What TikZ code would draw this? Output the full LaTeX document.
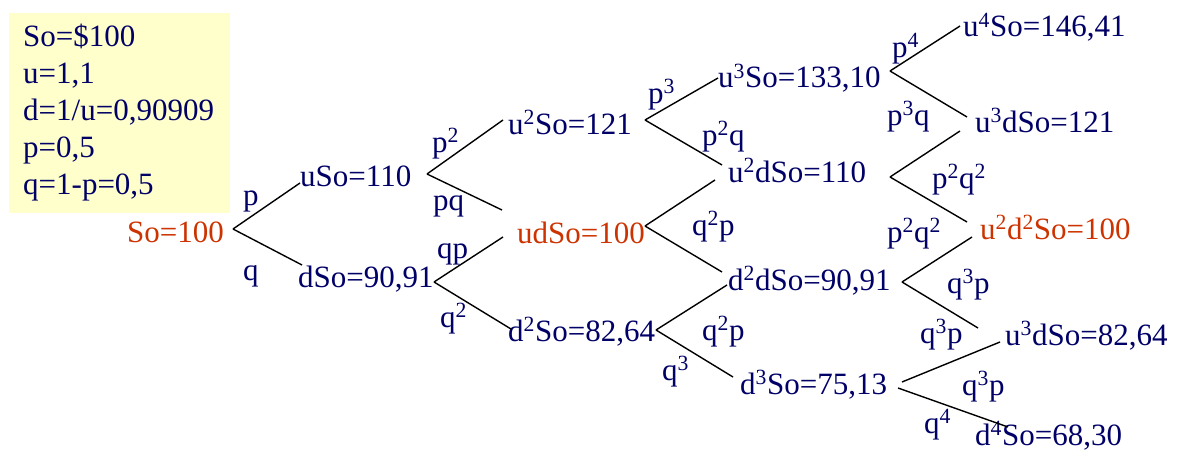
\documentclass[tikz,border=0pt]{standalone}
\usepackage{fontspec}
\setmainfont{Liberation Serif}
\usetikzlibrary{calc}
\definecolor{navy}{RGB}{0,0,102}
\definecolor{redt}{RGB}{204,51,0}
\definecolor{paleyellow}{RGB}{255,255,204}
\begin{document}
\begin{tikzpicture}[x=1pt,y=-1pt,
  val/.style={anchor=base west,inner sep=0pt,text=navy,font=\fontsize{31}{37}\selectfont},
  valr/.style={val,text=redt},
  lab/.style={anchor=base west,inner sep=0pt,text=navy,font=\fontsize{31}{37}\selectfont},
  link/.style={draw=black,line width=1.4pt}]
\useasboundingbox (0,0) rectangle (1177,452);
\fill[paleyellow] (9,13) rectangle (230,213);
\node[anchor=north west,inner sep=0pt,text=navy,font=\fontsize{31}{37}\selectfont,align=left] (info) at (23,24)
  {So=\$100\\u=1,1\\d=1/u=0,90909\\p=0,5\\q=1-p=0,5};
% values
\node[valr] (S0) at (127,242) {So=100};
\node[val] (uS) at (300,186) {uSo=110};
\node[val] (dS) at (298,287) {dSo=90,91};
\node[val] (u2S) at (508,134) {u\textsuperscript{2}So=121};
\node[valr] (udS) at (517,243) {udSo=100};
\node[val] (d2S) at (508,341) {d\textsuperscript{2}So=82,64};
\node[val] (u3S) at (718,88) {u\textsuperscript{3}So=133,10};
\node[val] (u2dS) at (728,182) {u\textsuperscript{2}dSo=110};
\node[val] (d2dS) at (728,290) {d\textsuperscript{2}dSo=90,91};
\node[val] (d3S) at (740,394) {d\textsuperscript{3}So=75,13};
\node[val] (u4S) at (963,37) {u\textsuperscript{4}So=146,41};
\node[val] (u3dS) at (975,132) {u\textsuperscript{3}dSo=121};
\node[valr] (u2d2S) at (980,239) {u\textsuperscript{2}d\textsuperscript{2}So=100};
\node[val] (u3dSb) at (1005,345) {u\textsuperscript{3}dSo=82,64};
\node[val] (d4S) at (975,445) {d\textsuperscript{4}So=68,30};
% probability labels
\node[lab] (l1) at (243,205) {p};
\node[lab] (l2) at (243,280) {q};
\node[lab] (l3) at (432,152) {p\textsuperscript{2}};
\node[lab] (l4) at (433,210) {pq};
\node[lab] (l5) at (437,258) {qp};
\node[lab] (l6) at (440,327) {q\textsuperscript{2}};
\node[lab] (l7) at (648,103) {p\textsuperscript{3}};
\node[lab] (l8) at (702,145) {p\textsuperscript{2}q};
\node[lab] (l9) at (692,235) {q\textsuperscript{2}p};
\node[lab] (l10) at (702,340) {q\textsuperscript{2}p};
\node[lab] (l11) at (662,380) {q\textsuperscript{3}};
\node[lab] (l12) at (892,57) {p\textsuperscript{4}};
\node[lab] (l13) at (887,125) {p\textsuperscript{3}q};
\node[lab] (l14) at (932,188) {p\textsuperscript{2}q\textsuperscript{2}};
\node[lab] (l15) at (887,242) {p\textsuperscript{2}q\textsuperscript{2}};
\node[lab] (l16) at (947,293) {q\textsuperscript{3}p};
\node[lab] (l17) at (920,343) {q\textsuperscript{3}p};
\node[lab] (l18) at (962,395) {q\textsuperscript{3}p};
\node[lab] (l19) at (924,433) {q\textsuperscript{4}};
% connectors
\draw[link] ($(S0.base west)+(106,-13)$) -- ($(uS.base west)+(0,-3)$);
\draw[link] ($(S0.base west)+(106,-13)$) -- ($(dS.base west)+(4,-22)$);
\draw[link] ($(uS.base west)+(127,-12)$) -- ($(u2S.base west)+(-5,-14)$);
\draw[link] ($(uS.base west)+(127,-12)$) -- ($(udS.base west)+(-15,-33)$);
\draw[link] ($(dS.base west)+(136,-5)$) -- ($(udS.base west)+(-14,-6)$);
\draw[link] ($(dS.base west)+(136,-5)$) -- ($(d2S.base west)+(3,-12)$);
\draw[link] ($(u2S.base west)+(137,-14)$) -- ($(u3S.base west)+(0,-10)$);
\draw[link] ($(u2S.base west)+(137,-14)$) -- ($(u2dS.base west)+(-6,-17)$);
\draw[link] ($(udS.base west)+(128,-17)$) -- ($(u2dS.base west)+(-13,-2)$);
\draw[link] ($(udS.base west)+(128,-17)$) -- ($(d2dS.base west)+(-6,-18)$);
\draw[link] ($(d2S.base west)+(148,-11)$) -- ($(d2dS.base west)+(-1,-5)$);
\draw[link] ($(d2S.base west)+(148,-11)$) -- ($(d3S.base west)+(-7,-17)$);
\draw[link] ($(u3S.base west)+(172,-17)$) -- ($(u4S.base west)+(-3,-11)$);
\draw[link] ($(u3S.base west)+(172,-17)$) -- ($(u3dS.base west)+(-8,-15)$);
\draw[link] ($(u2dS.base west)+(162,-5)$) -- ($(u3dS.base west)+(-15,-1)$);
\draw[link] ($(u2dS.base west)+(162,-5)$) -- ($(u2d2S.base west)+(-13,-17)$);
\draw[link] ($(d2dS.base west)+(174,-8)$) -- ($(u2d2S.base west)+(-8,-2)$);
\draw[link] ($(d2dS.base west)+(174,-8)$) -- ($(u3dSb.base west)+(-27,-17)$);
\draw[link] ($(d3S.base west)+(162,-12)$) -- ($(u3dSb.base west)+(-5,-3)$);
\draw[link] ($(d3S.base west)+(158,-6)$) -- ($(d4S.base west)+(33,-18)$);
\end{tikzpicture}
\end{document}
